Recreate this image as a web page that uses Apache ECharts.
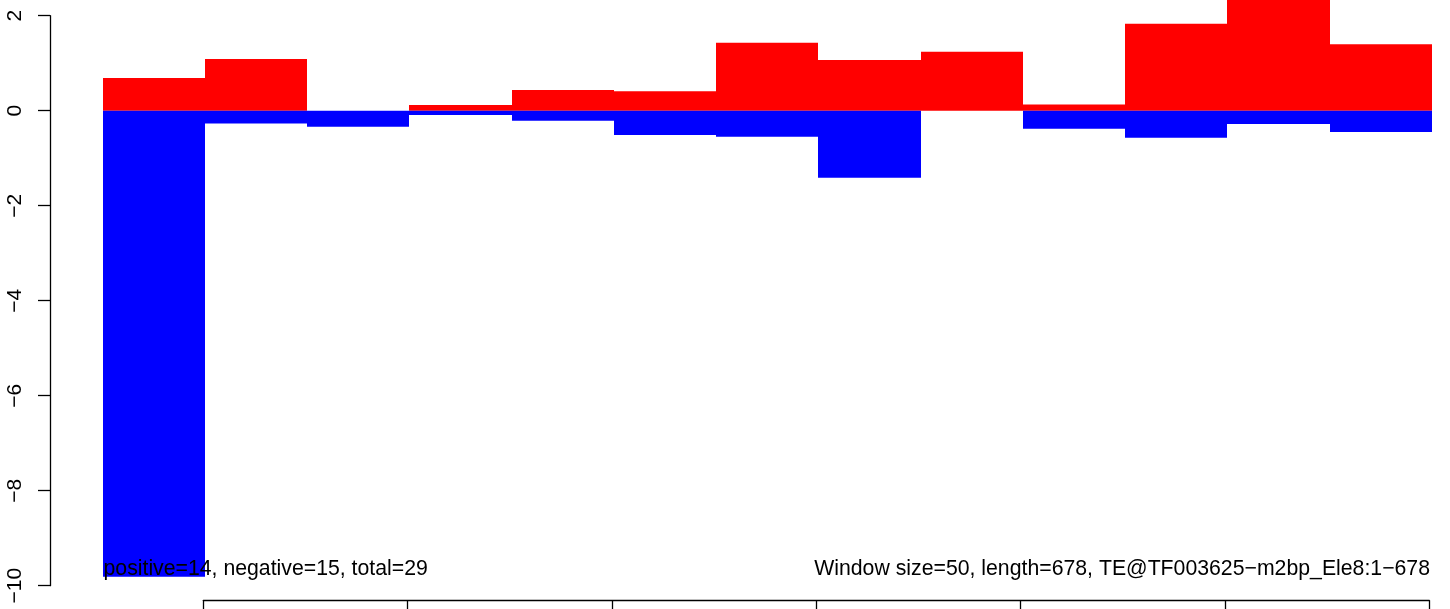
<!DOCTYPE html>
<html>
<head>
<meta charset="utf-8">
<script src="https://cdn.jsdelivr.net/npm/echarts@6/dist/echarts.min.js"></script>
<style>
html,body{margin:0;padding:0;background:#fff;}
#chart{width:1450px;height:609px;}
</style>
</head>
<body>
<div id="chart"></div>
<script>
// ---- data ----
const windowStart = [50, 100, 150, 200, 250, 300, 350, 400, 450, 500, 550, 600, 650];
const windowSize = 50;
const positiveValues = [0.69, 1.09, 0, 0.12, 0.435, 0.41, 1.43, 1.07, 1.24, 0.13, 1.83, 2.6, 1.40];
const negativeValues = [-9.81, -0.27, -0.34, -0.09, -0.21, -0.51, -0.55, -1.41, 0, -0.38, -0.57, -0.28, -0.45];
const yTicks = { min: -10, max: 2, step: 2 };
const xTicks = { min: 100, max: 700, step: 100 };
const leftNote = 'positive=14, negative=15, total=29';
const rightNote = 'Window size=50, length=678, TE@TF003625\u2212m2bp_Ele8:1\u2212678';

const FONT = '"Liberation Sans", Arial, Helvetica, sans-serif';

function rectItem(color) {
  return function (params, api) {
    const a = api.coord([api.value(0), api.value(2)]);
    const b = api.coord([api.value(1), 0]);
    const x0 = Math.round(a[0]);
    const x1 = Math.round(b[0]);
    return {
      type: 'rect',
      shape: {
        x: x0,
        y: Math.min(a[1], b[1]),
        width: x1 - x0,
        height: Math.abs(b[1] - a[1])
      },
      style: { fill: color }
    };
  };
}

const posData = windowStart.map((s, i) => [s, s + windowSize, positiveValues[i]]);
const negData = windowStart.map((s, i) => [s, s + windowSize, negativeValues[i]]);

const chart = echarts.init(document.getElementById('chart'), null, { renderer: 'canvas' });
chart.setOption({
  animation: false,
  backgroundColor: '#ffffff',
  grid: [
    { left: 50, top: 15.7, width: 1390, height: 570, containLabel: false, outerBoundsMode: 'none' },
    { left: 203.3, top: 580, width: 1226, height: 20.3, containLabel: false, outerBoundsMode: 'none' }
  ],
  xAxis: [
    { gridIndex: 0, type: 'value', min: 24.23, max: 703.94, show: false, splitLine: { show: false } },
    {
      gridIndex: 1, type: 'value', position: 'bottom',
      min: xTicks.min, max: xTicks.max, interval: xTicks.step,
      axisLine: { show: true, lineStyle: { color: '#000', width: 1.3 } },
      axisTick: { show: true, inside: false, length: 12, lineStyle: { color: '#000', width: 1.3 } },
      axisLabel: { show: true, margin: 18, color: '#000', fontSize: 21, fontFamily: FONT },
      splitLine: { show: false }
    }
  ],
  yAxis: [
    {
      gridIndex: 0, type: 'value', position: 'left',
      min: yTicks.min, max: yTicks.max, interval: yTicks.step,
      axisLine: { show: true, lineStyle: { color: '#000', width: 1.3 } },
      axisTick: { show: true, inside: false, length: 12, lineStyle: { color: '#000', width: 1.3 } },
      axisLabel: {
        show: true, rotate: 90, margin: 24, color: '#000', fontSize: 21, fontFamily: FONT,
        formatter: v => String(v).replace('-', '\u2212')
      },
      splitLine: { show: false }
    },
    { gridIndex: 1, type: 'value', min: 0, max: 1, show: false, splitLine: { show: false } }
  ],
  series: [
    {
      type: 'custom', xAxisIndex: 0, yAxisIndex: 0, clip: false,
      renderItem: rectItem('#ff0000'), data: posData,
      encode: { x: [0, 1], y: 2 }
    },
    {
      type: 'custom', xAxisIndex: 0, yAxisIndex: 0, clip: false,
      renderItem: rectItem('#0000ff'), data: negData,
      encode: { x: [0, 1], y: 2 }
    }
  ],
  graphic: [
    {
      type: 'text', z: 100,
      style: { text: leftNote, x: 103.5, y: 569, align: 'left', verticalAlign: 'middle',
               font: '21.25px ' + FONT, fill: '#000' }
    },
    {
      type: 'text', z: 100,
      style: { text: rightNote, x: 1430, y: 569, align: 'right', verticalAlign: 'middle',
               font: '21.25px ' + FONT, fill: '#000' }
    }
  ]
});
</script>
</body>
</html>
